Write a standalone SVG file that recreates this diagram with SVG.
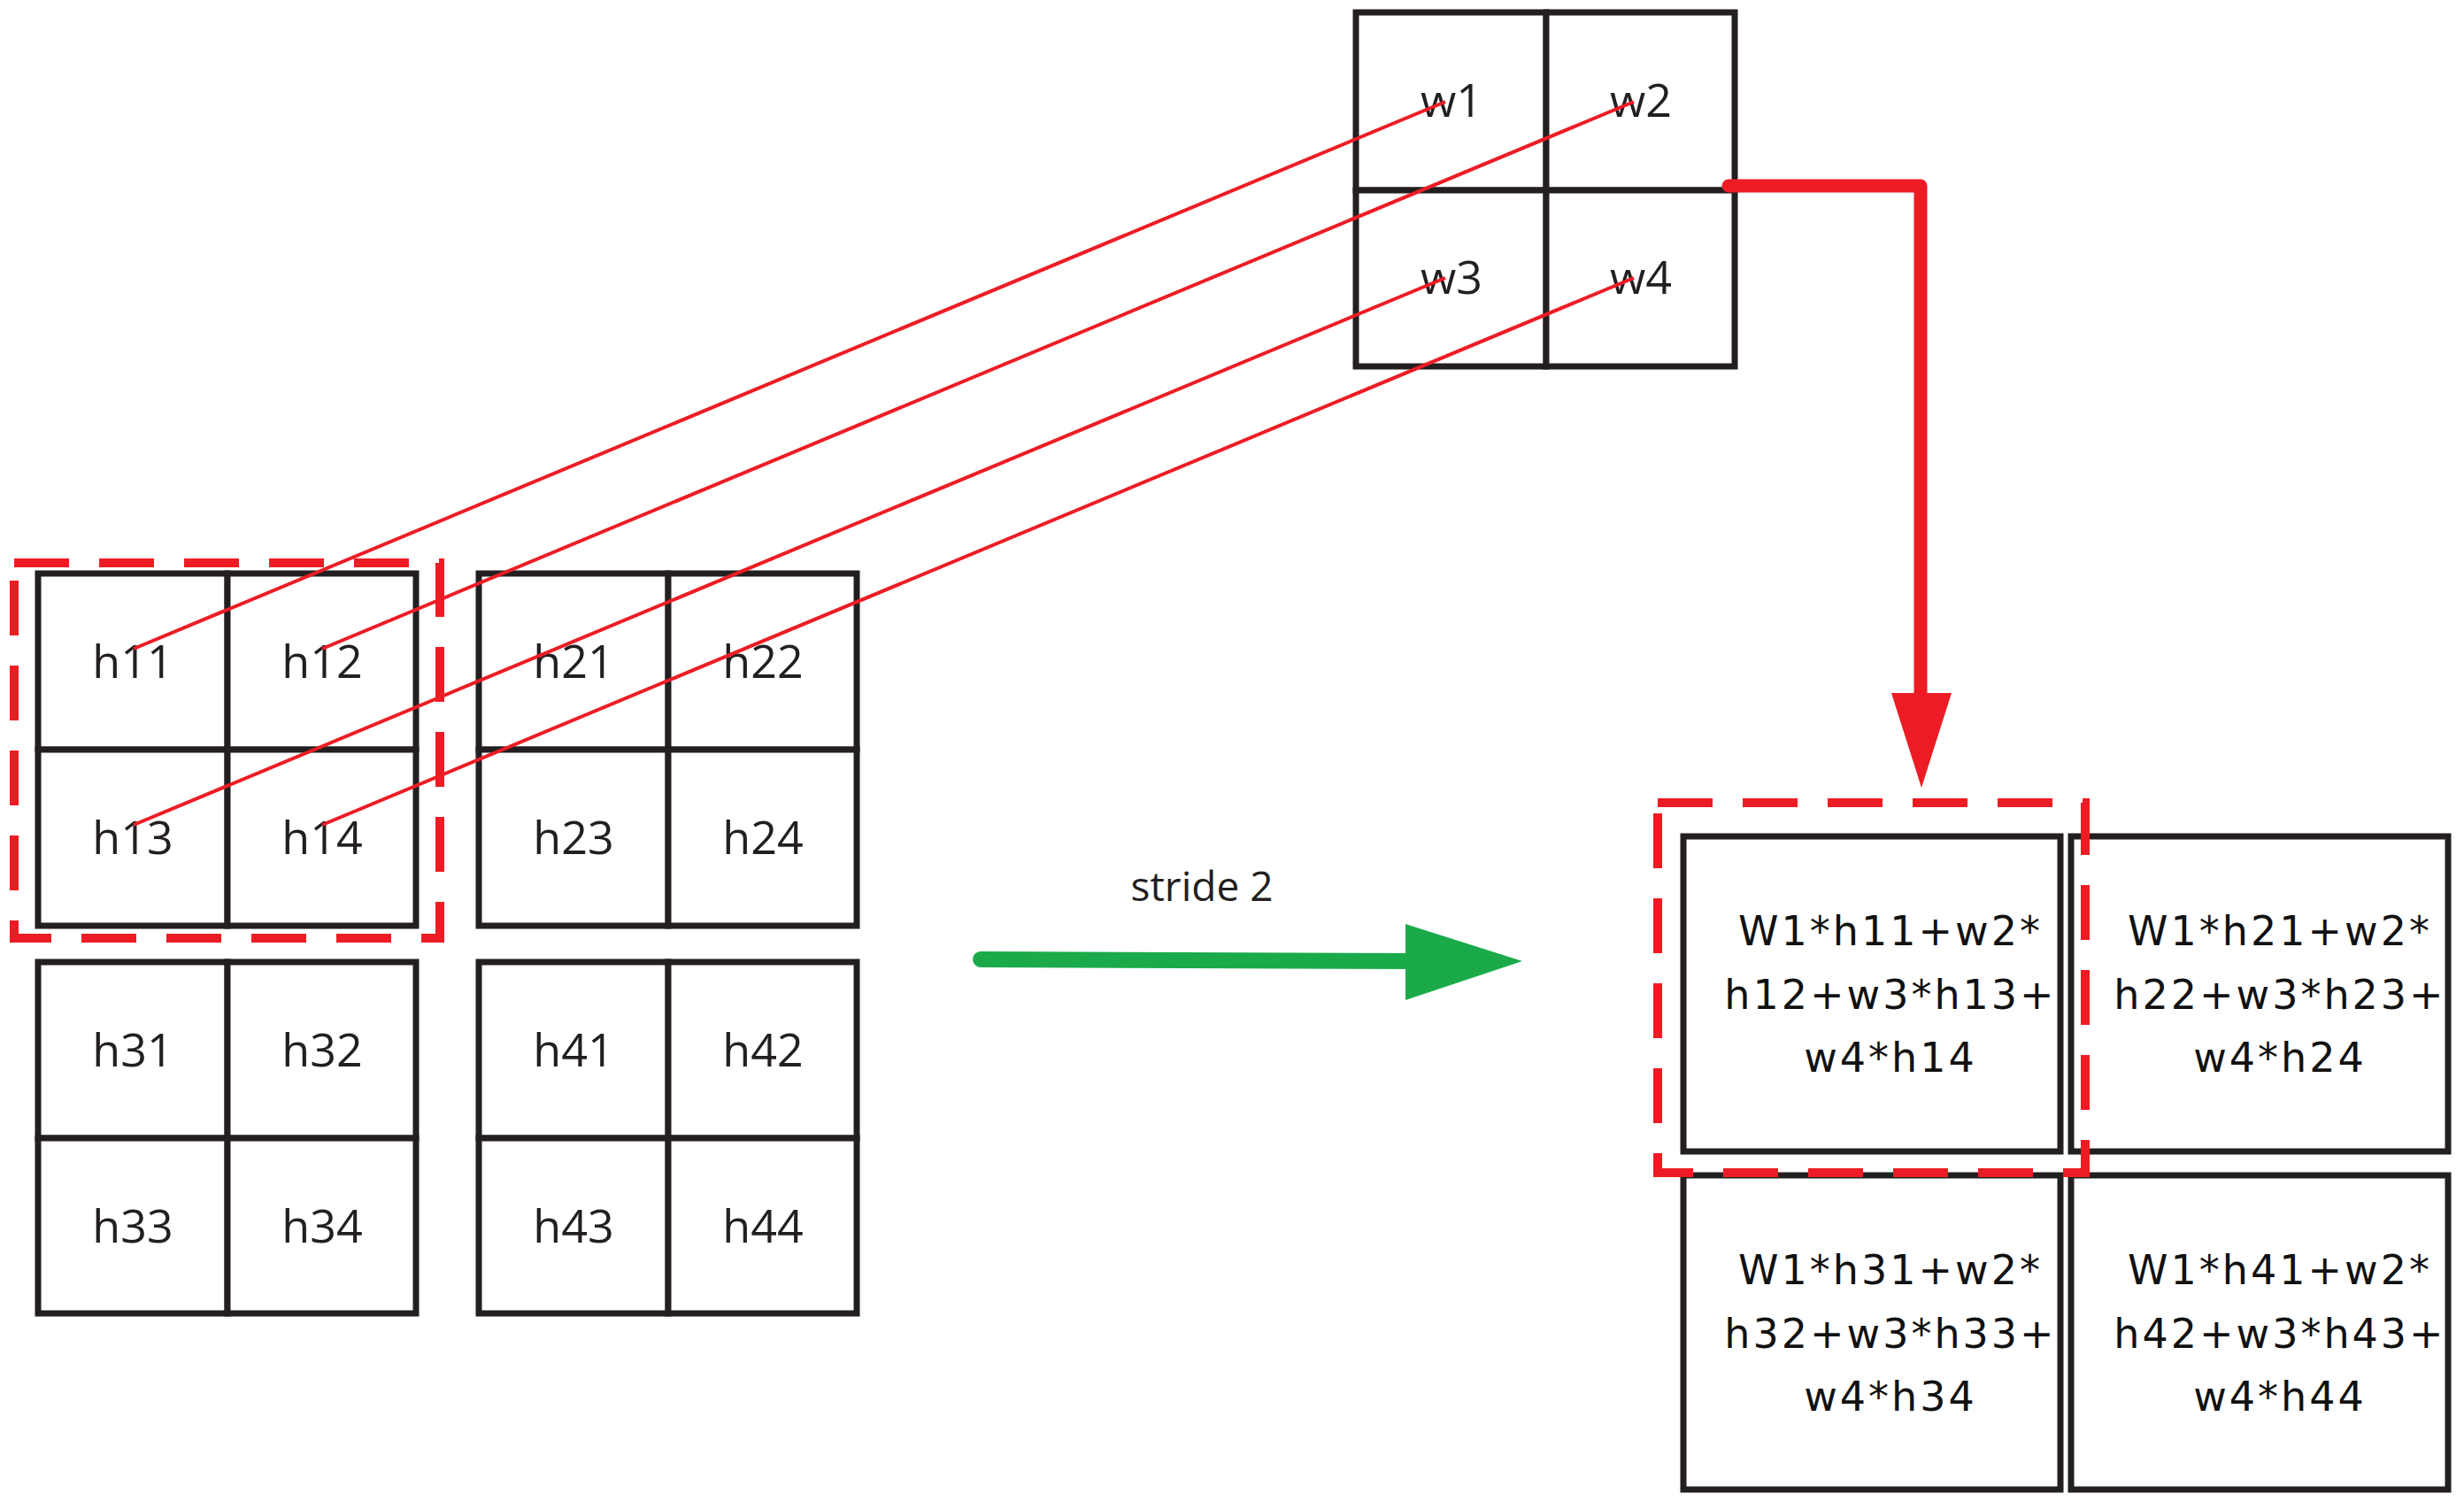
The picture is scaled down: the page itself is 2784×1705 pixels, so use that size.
<svg xmlns="http://www.w3.org/2000/svg" width="2784" height="1705" viewBox="0 0 2784 1705">
<style>
.c{fill:#fff;stroke:#231f20;stroke-width:7}
.t{font-family:"Open Sans","DejaVu Sans",sans-serif;font-size:52px;fill:#231f20;text-anchor:middle}
.o{font-family:"DejaVu Sans",sans-serif;font-size:46px;fill:#111;text-anchor:middle;letter-spacing:3px}
.d{fill:none;stroke:#ed1c24;stroke-width:10;stroke-dasharray:62 34}
.r{stroke:#ed1c24;stroke-width:4}
</style>
<rect width="2784" height="1705" fill="#fff"/>
<g id="kernel">
<rect class="c" x="1532" y="14" width="215" height="201"/><rect class="c" x="1747" y="14" width="213" height="201"/>
<rect class="c" x="1532" y="215" width="215" height="199"/><rect class="c" x="1747" y="215" width="213" height="199"/>
<text class="t" x="1640" y="132">w1</text><text class="t" x="1854" y="132">w2</text>
<text class="t" x="1640" y="332">w3</text><text class="t" x="1854" y="332">w4</text>
</g>
<g id="h1">
<rect class="c" x="43" y="648" width="214" height="199"/><rect class="c" x="257" y="648" width="213" height="199"/>
<rect class="c" x="43" y="847" width="214" height="199"/><rect class="c" x="257" y="847" width="213" height="199"/>
<text class="t" x="150" y="766">h11</text><text class="t" x="364" y="766">h12</text>
<text class="t" x="150" y="965">h13</text><text class="t" x="364" y="965">h14</text>
</g>
<g id="h2">
<rect class="c" x="541" y="648" width="214" height="199"/><rect class="c" x="755" y="648" width="213" height="199"/>
<rect class="c" x="541" y="847" width="214" height="199"/><rect class="c" x="755" y="847" width="213" height="199"/>
<text class="t" x="648" y="766">h21</text><text class="t" x="862" y="766">h22</text>
<text class="t" x="648" y="965">h23</text><text class="t" x="862" y="965">h24</text>
</g>
<g id="h3">
<rect class="c" x="43" y="1087" width="214" height="199"/><rect class="c" x="257" y="1087" width="213" height="199"/>
<rect class="c" x="43" y="1286" width="214" height="198"/><rect class="c" x="257" y="1286" width="213" height="198"/>
<text class="t" x="150" y="1205">h31</text><text class="t" x="364" y="1205">h32</text>
<text class="t" x="150" y="1404">h33</text><text class="t" x="364" y="1404">h34</text>
</g>
<g id="h4">
<rect class="c" x="541" y="1087" width="214" height="199"/><rect class="c" x="755" y="1087" width="213" height="199"/>
<rect class="c" x="541" y="1286" width="214" height="198"/><rect class="c" x="755" y="1286" width="213" height="198"/>
<text class="t" x="648" y="1205">h41</text><text class="t" x="862" y="1205">h42</text>
<text class="t" x="648" y="1404">h43</text><text class="t" x="862" y="1404">h44</text>
</g>
<g id="out">
<rect class="c" x="1902" y="945" width="426" height="356"/>
<rect class="c" x="2340" y="945" width="426" height="356"/>
<rect class="c" x="1902" y="1328" width="426" height="355"/>
<rect class="c" x="2340" y="1328" width="426" height="355"/>
<text class="o" x="2136"><tspan x="2136" y="1068">W1*h11+w2*</tspan><tspan x="2136" y="1140">h12+w3*h13+</tspan><tspan x="2136" y="1211">w4*h14</tspan></text>
<text class="o" x="2576"><tspan x="2576" y="1068">W1*h21+w2*</tspan><tspan x="2576" y="1140">h22+w3*h23+</tspan><tspan x="2576" y="1211">w4*h24</tspan></text>
<text class="o" x="2136"><tspan x="2136" y="1451">W1*h31+w2*</tspan><tspan x="2136" y="1523">h32+w3*h33+</tspan><tspan x="2136" y="1594">w4*h34</tspan></text>
<text class="o" x="2576"><tspan x="2576" y="1451">W1*h41+w2*</tspan><tspan x="2576" y="1523">h42+w3*h43+</tspan><tspan x="2576" y="1594">w4*h44</tspan></text>
</g>
<g id="connectors">
<rect class="d" x="16" y="636" width="481" height="424"/>
<rect class="d" x="1873" y="907" width="483" height="418"/>
<line class="r" x1="151" y1="733" x2="1633" y2="115"/>
<line class="r" x1="364" y1="733" x2="1846" y2="115"/>
<line class="r" x1="151" y1="932" x2="1633" y2="314"/>
<line class="r" x1="364" y1="932" x2="1846" y2="314"/>
<path d="M1953 210H2170V790" fill="none" stroke="#ed1c24" stroke-width="15" stroke-linejoin="round" stroke-linecap="round"/>
<polygon points="2137,783 2205,783 2171,890" fill="#ed1c24"/>
<line x1="1108" y1="1084" x2="1600" y2="1086" stroke="#1aaa4a" stroke-width="18" stroke-linecap="round"/>
<polygon points="1588,1044 1720,1086 1588,1130" fill="#1aaa4a"/>
<text x="1358" y="1018" style="font-family:'Open Sans','DejaVu Sans',sans-serif;font-size:46px;fill:#231f20;text-anchor:middle">stride 2</text>
</g>
</svg>
